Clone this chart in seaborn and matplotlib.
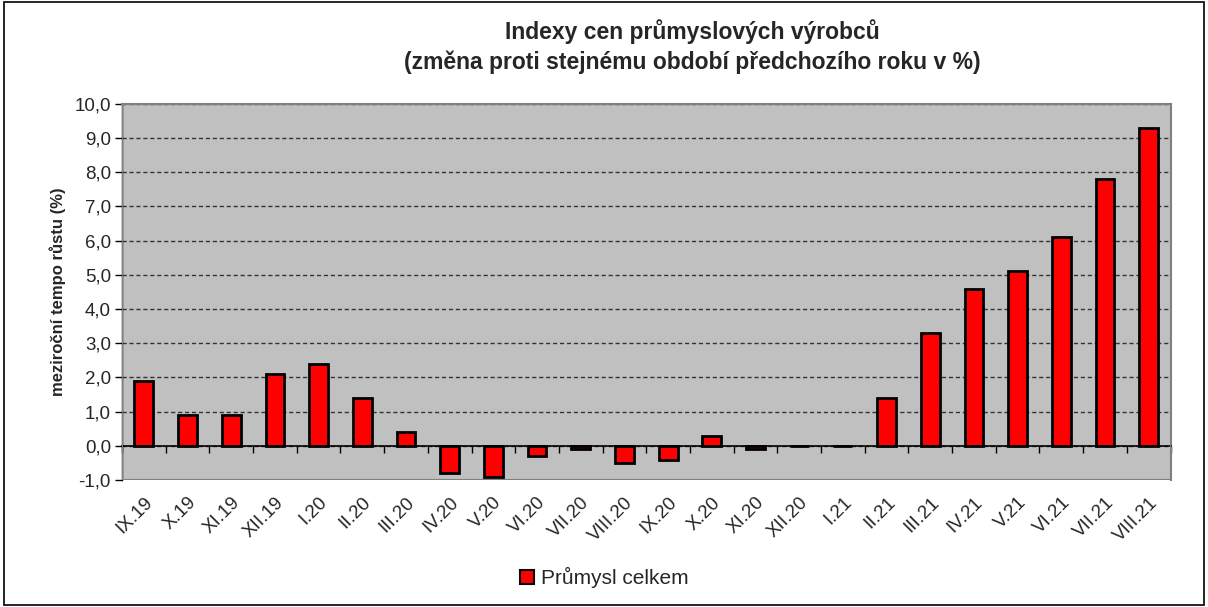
import matplotlib
matplotlib.use("Agg")
import matplotlib.pyplot as plt
import seaborn as sns
import pandas as pd
import numpy as np
from matplotlib.patches import Rectangle, Patch
from matplotlib.ticker import FuncFormatter, MultipleLocator

categories = ["IX.19", "X.19", "XI.19", "XII.19", "I.20", "II.20", "III.20", "IV.20",
              "V.20", "VI.20", "VII.20", "VIII.20", "IX.20", "X.20", "XI.20", "XII.20",
              "I.21", "II.21", "III.21", "IV.21", "V.21", "VI.21", "VII.21", "VIII.21"]
values = [1.9, 0.9, 0.9, 2.1, 2.4, 1.4, 0.4, -0.8,
          -0.9, -0.3, -0.1, -0.5, -0.4, 0.3, -0.1, 0.0,
          0.0, 1.4, 3.3, 4.6, 5.1, 6.1, 7.8, 9.3]
series_name = "Průmysl celkem"
title_lines = ["Indexy cen průmyslových výrobců",
               "(změna proti stejnému období předchozího roku v %)"]
ylabel = "meziroční tempo růstu (%)"

sns.set_style("white")
plt.rcParams["font.family"] = ["Liberation Sans", "DejaVu Sans"]

df = pd.DataFrame({"cat": categories, "val": values})

fig = plt.figure(figsize=(12.08, 6.07), dpi=100)
ax = fig.add_axes([0.101, 0.209, 0.868, 0.620])
ax.set_facecolor("#C0C0C0")

sns.barplot(data=df, x="cat", y="val", color="#FF0000", edgecolor="black",
            linewidth=2, width=0.43, saturation=1, ax=ax, zorder=3)

ax.set_ylim(-1, 10)
ax.set_xlim(-0.5, len(categories) - 0.5)
ax.yaxis.set_major_locator(MultipleLocator(1))
ax.yaxis.set_major_formatter(FuncFormatter(lambda v, p: f"{v:.1f}".replace(".", ",")))
ax.tick_params(axis="y", labelsize=13.5, length=5, width=1, color="black", direction="out",
               left=True, pad=3)
ax.grid(axis="y", color="#333333", linestyle=(0, (3, 2)), linewidth=1, zorder=1)
ax.grid(axis="x", visible=False)
ax.set_axisbelow(True)

for s in ["top", "right", "left", "bottom"]:
    ax.spines[s].set_color("#808080")
    ax.spines[s].set_linewidth(1.5)
ax.spines["left"].set_color("black")
ax.spines["left"].set_linewidth(1)

# zero axis with ticks between categories
ax.spines["bottom"].set_position(("data", 0))
ax.spines["bottom"].set_color("black")
ax.spines["bottom"].set_linewidth(1.2)
ax.spines["bottom"].set_zorder(4)
ax.set_xticks(np.arange(len(categories) + 1) - 0.5)
ax.set_xticklabels([])
ax.tick_params(axis="x", length=5, width=1, color="black", direction="out", bottom=True)
ax.add_patch(Rectangle((0, 0), 1, 1, transform=ax.transAxes, fill=False,
                       edgecolor="#808080", linewidth=1.5, zorder=5))

sec = ax.secondary_xaxis(0.0)
sec.set_xticks(np.arange(len(categories)))
sec.set_xticklabels(categories, rotation=45, ha="right", rotation_mode="anchor", fontsize=13.5)
sec.tick_params(length=0, pad=10)
sec.spines["bottom"].set_visible(False)

ax.set_xlabel("")
ax.set_ylabel(ylabel, fontsize=12, fontweight="bold", labelpad=6)

fig.text(0.573, 0.948, title_lines[0], ha="center", va="center", fontsize=16.5, fontweight="bold")
fig.text(0.573, 0.898, title_lines[1], ha="center", va="center", fontsize=16.5, fontweight="bold")

fig.legend(handles=[Patch(facecolor="#FF0000", edgecolor="black", linewidth=1.5, label=series_name)],
           loc="center", bbox_to_anchor=(0.50, 0.048), frameon=False, fontsize=15,
           handlelength=0.7, handleheight=0.7, handletextpad=0.3)

fig.patches.append(Rectangle((0.003, 0.003), 0.994, 0.994, transform=fig.transFigure,
                             fill=False, edgecolor="black", linewidth=1.2))

fig.savefig("out.png", dpi=100, facecolor="white")
